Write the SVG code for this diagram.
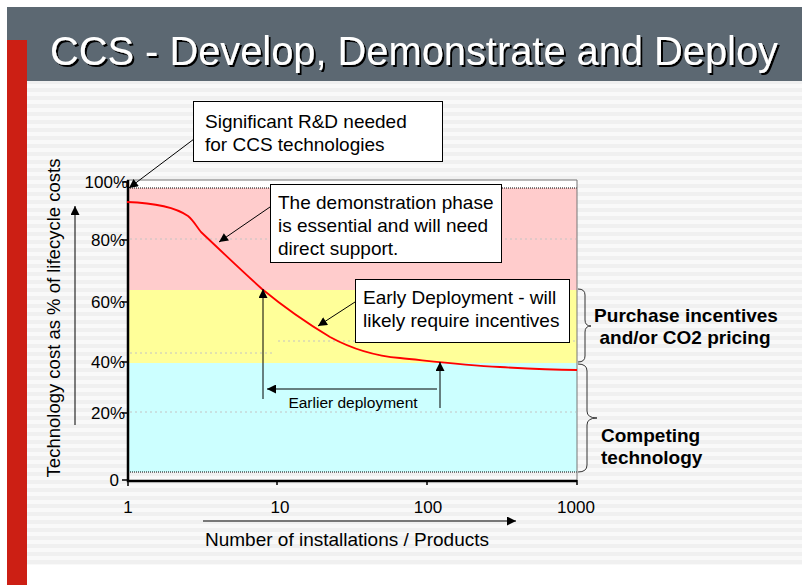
<svg xmlns="http://www.w3.org/2000/svg" width="802" height="585" viewBox="0 0 802 585">
<defs>
<pattern id="stripes" patternUnits="userSpaceOnUse" width="8" height="8">
<rect width="8" height="8" fill="#f9f9f9"/>
<rect y="0" width="8" height="4" fill="#f0f0f0"/>
</pattern>
<marker id="ah" viewBox="0 0 10 10" refX="10" refY="5" markerWidth="10" markerHeight="9" markerUnits="userSpaceOnUse" orient="auto">
<path d="M0,0 L10,5 L0,10 z" fill="#000"/>
</marker>
<filter id="shadow" x="-5%" y="-20%" width="110%" height="150%">
<feDropShadow dx="2" dy="2" stdDeviation="0" flood-color="#000" flood-opacity="1"/>
</filter>
</defs>
<style>
.t{font-family:"Liberation Sans",Arial,sans-serif;fill:#000}
.c{font-size:19px}
.tick{font-size:17px}
.b{font-size:19px;font-weight:bold}
.box{fill:#fff;stroke:#000;stroke-width:1}
.arr{stroke:#000;stroke-width:1;fill:none;marker-end:url(#ah)}
.grid{stroke:#c4c4c4;stroke-width:1;stroke-dasharray:2,3}
.brace{fill:none;stroke:#333;stroke-width:1}
</style>
<rect width="802" height="585" fill="#fff"/>
<rect x="27" y="81" width="775" height="484" fill="url(#stripes)"/>
<rect x="7" y="7" width="795" height="74" fill="#5c6872"/>
<rect x="7" y="40" width="20" height="545" fill="#cc1f14"/>
<text x="50" y="65" font-family="Liberation Sans,Arial,sans-serif" font-size="40" fill="#fff" filter="url(#shadow)" textLength="728" lengthAdjust="spacingAndGlyphs">CCS - Develop, Demonstrate and Deploy</text>

<g id="plot">
<rect x="128" y="180" width="449" height="8" fill="#fff"/>
<rect x="129" y="188" width="448" height="102" fill="#ffcccc"/>
<rect x="129" y="290" width="448" height="73" fill="#ffff99"/>
<rect x="129" y="363" width="448" height="109" fill="#ccffff"/>
<line class="grid" x1="130" y1="239" x2="576" y2="239"/>
<line class="grid" x1="130" y1="353" x2="275" y2="353"/>
<line class="grid" x1="278" y1="341" x2="576" y2="341"/>
<line class="grid" x1="130" y1="412" x2="576" y2="412"/>
<line x1="130" y1="188" x2="577" y2="188" stroke="#000" stroke-width="1.2" stroke-dasharray="1,1"/>
<line x1="130" y1="472" x2="577" y2="472" stroke="#000" stroke-width="1.2" stroke-dasharray="1,1"/>
<path d="M127,180 H577 V480" fill="none" stroke="#777" stroke-width="1"/>
<path d="M128,180 V481 H577" fill="none" stroke="#000" stroke-width="2.5"/>
<g stroke="#000" stroke-width="1.5">
<line x1="122" y1="182" x2="128" y2="182"/>
<line x1="122" y1="240" x2="128" y2="240"/>
<line x1="122" y1="302" x2="128" y2="302"/>
<line x1="122" y1="362" x2="128" y2="362"/>
<line x1="122" y1="413" x2="128" y2="413"/>
<line x1="122" y1="480" x2="128" y2="480"/>
<line x1="128" y1="480" x2="128" y2="486"/>
<line x1="277" y1="480" x2="277" y2="485"/>
<line x1="427" y1="480" x2="427" y2="485"/>
<line x1="577" y1="480" x2="577" y2="485"/>
</g>
<g class="t tick" text-anchor="end">
<text x="128" y="188">100%</text>
<text x="125" y="246">80%</text>
<text x="125" y="308">60%</text>
<text x="125" y="368">40%</text>
<text x="125" y="419">20%</text>
<text x="119" y="486">0</text>
</g>
<g class="t tick" text-anchor="middle">
<text x="128" y="513">1</text>
<text x="280" y="513">10</text>
<text x="428" y="513">100</text>
<text x="576" y="513">1000</text>
</g>
<path d="M127,202 C155,203 175,207 188,216 C194,221 196,226 201,232 C220,250 242,271 262,289 C285,308 305,322 330,337 C352,349 375,356 400,358 C430,361 460,365 500,367 C530,369 555,370 577,370" fill="none" stroke="#ff0000" stroke-width="1.8"/>
</g>

<g id="y-axis-title">
<line class="arr" x1="75" y1="425" x2="75" y2="206" stroke="#333"/>
<text class="t" x="0" y="0" font-size="18.5" transform="translate(60,318) rotate(-90)" text-anchor="middle">Technology cost as % of lifecycle costs</text>
</g>
<g id="x-axis-title">
<line class="arr" x1="203" y1="521" x2="516" y2="521"/>
<text class="t c" x="347" y="546" text-anchor="middle">Number of installations / Products</text>
</g>

<g id="connectors">
<line class="arr" x1="194" y1="139" x2="129" y2="188"/>
<line class="arr" x1="270" y1="207" x2="219" y2="242"/>
<line class="arr" x1="355" y1="302" x2="318" y2="326"/>
<line class="arr" x1="263" y1="399" x2="263" y2="289"/>
<line class="arr" x1="437" y1="389" x2="267" y2="389"/>
<line class="arr" x1="440" y1="408" x2="440" y2="362"/>
</g>

<g id="rd-callout">
<rect class="box" x="193.5" y="101.5" width="249" height="60"/>
<text class="t c" x="205" y="128">Significant R&amp;D needed</text>
<text class="t c" x="205" y="151">for CCS technologies</text>
</g>
<g id="demo-callout">
<rect class="box" x="270.5" y="184.5" width="231" height="78"/>
<text class="t c" x="278" y="209">The demonstration phase</text>
<text class="t c" x="278" y="232">is essential and will need</text>
<text class="t c" x="278" y="255">direct support.</text>
</g>
<g id="deploy-callout">
<rect class="box" x="355.5" y="279.5" width="214" height="63"/>
<text class="t c" x="363" y="304">Early Deployment - will</text>
<text class="t c" x="363" y="327">likely require incentives</text>
</g>
<g id="earlier-label">
<text class="t" x="353" y="408" font-size="15.5" text-anchor="middle">Earlier deployment</text>
</g>

<g id="purchase-brace">
<path class="brace" d="M578,289 Q585,289 585,295 V320 Q585,326 591,326 Q585,326 585,332 V356 Q585,362 578,362"/>
<text class="t b" x="686" y="322" text-anchor="middle">Purchase incentives</text>
<text class="t b" x="685" y="344" text-anchor="middle">and/or CO2 pricing</text>
</g>
<g id="competing-brace">
<path class="brace" d="M578,364 Q587,364 587,371 V411 Q587,418 597,418 Q587,418 587,425 V465 Q587,472 578,472"/>
<text class="t b" x="601" y="442">Competing</text>
<text class="t b" x="601" y="464">technology</text>
</g>
</svg>
